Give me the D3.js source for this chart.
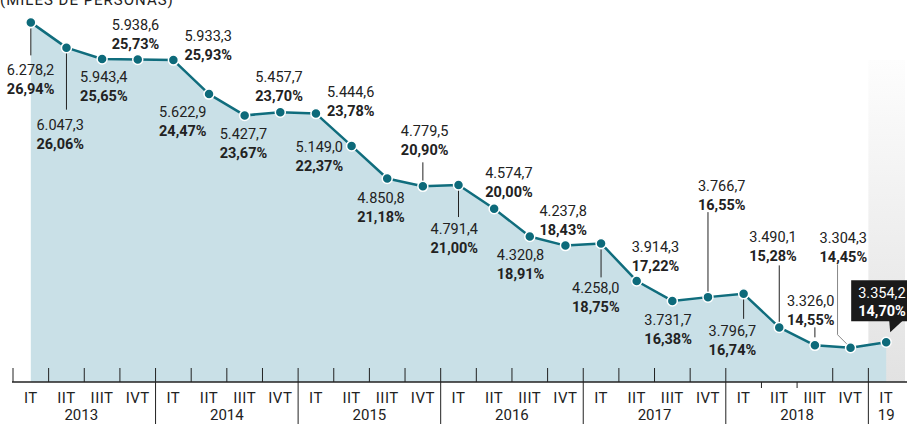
<!DOCTYPE html>
<html>
<head>
<meta charset="utf-8">
<title>paro EPA</title>
<script src="https://d3js.org/d3.v7.min.js"></script>
<style>
  body { margin: 0; background: #fff; }
  svg { display: block; font-family: Roboto, "Noto Sans", sans-serif; }
</style>
</head>
<body>
<script>

//Size
var w = 907;
var h = 424;

//Data
var quarters = ["IT", "IIT", "IIIT", "IVT", "IT", "IIT", "IIIT", "IVT",
                "IT", "IIT", "IIIT", "IVT", "IT", "IIT", "IIIT", "IVT",
                "IT", "IIT", "IIIT", "IVT", "IT", "IIT", "IIIT", "IVT", "IT"];
var years = ["2013", "2014", "2015", "2016", "2017", "2018", "19"];
var unemployed = [6278.2, 6047.3, 5943.4, 5938.6, 5933.3, 5622.9, 5427.7, 5457.7,
                  5444.6, 5149.0, 4850.8, 4779.5, 4791.4, 4574.7, 4320.8, 4237.8,
                  4258.0, 3914.3, 3731.7, 3766.7, 3796.7, 3490.1, 3326.0, 3304.3, 3354.2];
var rate = [26.94, 26.06, 25.65, 25.73, 25.93, 24.47, 23.67, 23.70,
            23.78, 22.37, 21.18, 20.90, 21.00, 20.00, 18.91, 18.43,
            18.75, 17.22, 16.38, 16.55, 16.74, 15.28, 14.55, 14.45, 14.70];

//Label placement relative to each point: [dx, dy of first baseline, leader]
var labelPos = [
  [-24, 53, [6, 33]], [-30, 82, [5, 62]], [-22, 23], [-26, -30],
  [11, -19], [-50, 23], [-25, 24], [-25, -30],
  [11, -17], [-56, 6], [-30, 24], [-22, -50, [-24, -5]],
  [-28, 49, [5, 32]], [-9, -31], [-33, 23], [-26, -30],
  [-29, 50, [6, 34]], [-5, -29], [-28, 24], [-10, -106, [-85, -4]],
  [-35, 42, [5, 25]], [-30, -85, [-62, -4]], [-28, -39, [-18, -8]], [-31, -105],
  null
];

var locale = d3.formatLocale({ decimal: ",", thousands: ".", grouping: [3], currency: ["", "€"] });
var fmtNum = locale.format(",.1f");
var fmtPct = locale.format(".2f");

var axisY = 382;

//Scales
var xScale = d3.scaleBand()
               .domain(d3.range(unemployed.length))
               .range([13, 904])
               .padding(0);
var bw = xScale.bandwidth();
var cx = function(i) { return xScale(i) + bw / 2; };

var yScale = d3.scaleLinear()
               .domain([3000, 6300])
               .range([381, 20]);

var svg = d3.select("body")
            .append("svg")
            .attr("width", w)
            .attr("height", h);

//Title, cropped at the top edge as in the original
svg.append("text")
   .attr("x", 0)
   .attr("y", 5)
   .attr("font-size", "15px")
   .attr("letter-spacing", "1px")
   .attr("fill", "#222")
   .text("(MILES DE PERSONAS)");

//Grey gradient for the last quarter
var defs = svg.append("defs");
var grad = defs.append("linearGradient")
               .attr("id", "lastQ")
               .attr("x1", 0).attr("y1", 0).attr("x2", 0).attr("y2", 1);
grad.append("stop").attr("offset", "0%").attr("stop-color", "#fdfdfd");
grad.append("stop").attr("offset", "100%").attr("stop-color", "#e2e2e2");

svg.append("rect")
   .attr("x", xScale(24))
   .attr("y", 60)
   .attr("width", bw + 1)
   .attr("height", axisY - 60)
   .attr("fill", "url(#lastQ)");

//Area + line
var area = d3.area()
             .x(function(d, i) { return cx(i); })
             .y0(axisY)
             .y1(function(d) { return yScale(d); });

var line = d3.line()
             .x(function(d, i) { return cx(i); })
             .y(function(d) { return yScale(d); });

svg.append("path")
   .datum(unemployed)
   .attr("d", area)
   .attr("fill", "#c9e0e7");

//Leader lines
labelPos.forEach(function(p, i) {
  if (p && p[2]) {
    svg.append("line")
       .attr("x1", cx(i)).attr("x2", cx(i))
       .attr("y1", yScale(unemployed[i]) + p[2][0])
       .attr("y2", yScale(unemployed[i]) + p[2][1])
       .attr("stroke", "#222")
       .attr("stroke-width", 1);
  }
});

//Grey bent leader for 2018 IVT
var p23x = cx(23), p23y = yScale(unemployed[23]);
svg.append("path")
   .attr("d", d3.line()([[p23x - 13, p23y - 83], [p23x - 13, p23y - 13], [p23x - 3, p23y - 3]]))
   .attr("fill", "none")
   .attr("stroke", "#888")
   .attr("stroke-width", 1);

svg.append("path")
   .datum(unemployed)
   .attr("d", line)
   .attr("fill", "none")
   .attr("stroke", "#106d7d")
   .attr("stroke-width", 2.5)
   .attr("stroke-linejoin", "round");

svg.selectAll("circle")
   .data(unemployed)
   .enter()
   .append("circle")
   .attr("cx", function(d, i) { return cx(i); })
   .attr("cy", function(d) { return yScale(d); })
   .attr("r", 5)
   .attr("fill", "#0d6a7a")
   .attr("stroke", "#fff")
   .attr("stroke-width", 1.5);

//Value labels
labelPos.forEach(function(p, i) {
  if (!p) return;
  var x0 = cx(i) + p[0];
  var y0 = yScale(unemployed[i]) + p[1];
  var t = svg.append("text")
             .attr("x", x0)
             .attr("y", y0)
             .attr("font-size", "14.5px")
             .attr("fill", "#222");
  t.append("tspan")
   .attr("x", x0)
   .text(fmtNum(unemployed[i]));
  t.append("tspan")
   .attr("x", x0)
   .attr("dy", 19)
   .attr("font-weight", "bold")
   .text(fmtPct(rate[i]) + "%");
});

//Callout for the last value
var last = unemployed.length - 1;
var lx = cx(last), ly = yScale(unemployed[last]);
svg.append("rect")
   .attr("x", lx - 35)
   .attr("y", ly - 62)
   .attr("width", 60)
   .attr("height", 41)
   .attr("fill", "#1a1a1a");
svg.append("path")
   .attr("d", d3.line()([[lx + 3, ly - 22], [lx + 17, ly - 22], [lx + 4, ly - 10]]))
   .attr("fill", "#1a1a1a");
var ct = svg.append("text")
            .attr("x", lx - 28)
            .attr("y", ly - 44)
            .attr("font-size", "14.5px")
            .attr("fill", "#fff");
ct.append("tspan").attr("x", lx - 28).text(fmtNum(unemployed[last]));
ct.append("tspan").attr("x", lx - 28).attr("dy", 18).attr("font-weight", "bold")
  .text(fmtPct(rate[last]) + "%");

//Axis
svg.append("line")
   .attr("x1", 12).attr("x2", w)
   .attr("y1", axisY).attr("y2", axisY)
   .attr("stroke", "#222")
   .attr("stroke-width", 1.5);

svg.selectAll(".tick")
   .data(d3.range(quarters.length))
   .enter()
   .append("line")
   .attr("class", "tick")
   .attr("x1", function(i) { return xScale(i); })
   .attr("x2", function(i) { return xScale(i); })
   .attr("y1", function(i) { return (i === 21 || i === 22) ? axisY : 368; })
   .attr("y2", function(i) {
      if (i === 21 || i === 22) return axisY + 6;
      return (i % 4 === 0 && i > 0) ? h : axisY;
   })
   .attr("stroke", "#222")
   .attr("stroke-width", 1);

svg.selectAll(".qlab")
   .data(quarters)
   .enter()
   .append("text")
   .attr("class", "qlab")
   .attr("x", function(d, i) { return cx(i); })
   .attr("y", 403)
   .attr("text-anchor", "middle")
   .attr("font-size", "15px")
   .attr("letter-spacing", "0.5px")
   .attr("fill", "#222")
   .text(function(d) { return d; });

svg.selectAll(".ylab")
   .data(years)
   .enter()
   .append("text")
   .attr("class", "ylab")
   .attr("x", function(d, i) {
      var a = i * 4, b = Math.min(i * 4 + 3, quarters.length - 1);
      return (cx(a) + cx(b)) / 2 - (i === 0 ? 3 : 0);
   })
   .attr("y", 420)
   .attr("text-anchor", "middle")
   .attr("font-size", "15px")
   .attr("fill", "#222")
   .text(function(d) { return d; });

</script>
</body>
</html>
